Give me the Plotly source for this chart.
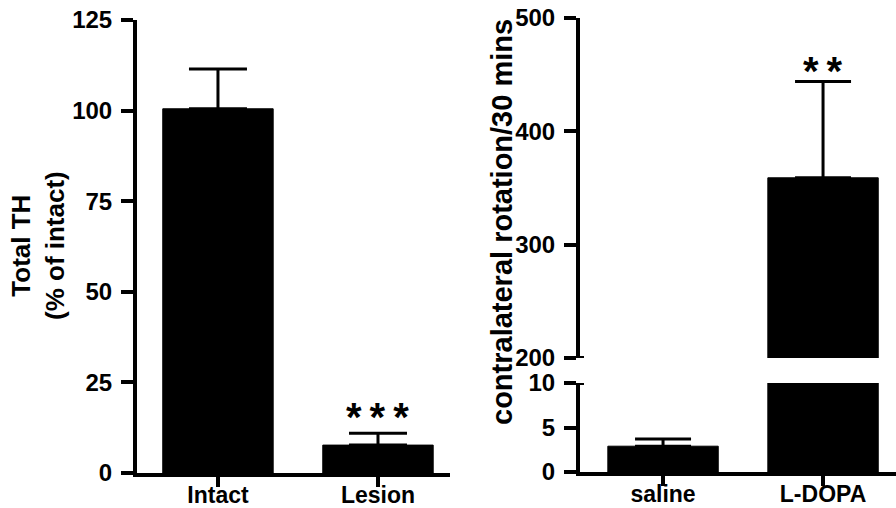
import plotly.graph_objects as go

# ---- data ----
left_categories = ["Intact", "Lesion"]
left_values = [100.5, 7.7]
left_errors = [11.0, 3.3]
left_stars = ["", "*\u2009*\u2009*"]

right_categories = ["saline", "L-DOPA"]
right_values = [2.9, 359.0]
right_errors = [0.8, 85.0]
right_stars = ["", "*\u2009*"]

left_yticks = [0, 25, 50, 75, 100, 125]
right_low_yticks = [0, 5, 10]
right_high_yticks = [200, 300, 400, 500]

W, H = 896, 508
FONT = "Liberation Sans, Arial, Helvetica, sans-serif"
BLACK = "#000000"


def px_x(p):
    return p / W


def px_y(p):
    return (H - p) / H


bar_style = dict(marker=dict(color=BLACK, line=dict(color=BLACK, width=1)), width=0.69, showlegend=False)

fig = go.Figure()

fig.add_trace(go.Bar(
    x=left_categories, y=left_values, xaxis="x", yaxis="y",
    error_y=dict(type="data", array=left_errors, arrayminus=[0] * len(left_errors), symmetric=False,
                 color=BLACK, thickness=3, width=29),
    **bar_style))

fig.add_trace(go.Bar(
    x=right_categories, y=right_values, xaxis="x2", yaxis="y2",
    error_y=dict(type="data", array=right_errors, arrayminus=[0] * len(right_errors), symmetric=False,
                 color=BLACK, thickness=3, width=28),
    **bar_style))

fig.add_trace(go.Bar(
    x=right_categories, y=right_values, xaxis="x3", yaxis="y3",
    error_y=dict(type="data", array=right_errors, arrayminus=[0] * len(right_errors), symmetric=False,
                 color=BLACK, thickness=3, width=28),
    **bar_style))

tickfont = dict(family=FONT, size=24, color=BLACK, weight="bold")
xtickfont = dict(family=FONT, size=23, color=BLACK, weight="bold")
axis_common = dict(showline=True, linecolor=BLACK, linewidth=4, tickwidth=4, tickcolor=BLACK,
                   showgrid=False, zeroline=False, ticks="outside", automargin=False)
xaxis_common = dict(axis_common, ticklen=10, ticklabelstandoff=-12, tickfont=xtickfont)
yaxis_common = dict(axis_common, ticklen=12, ticklabelstandoff=4, tickfont=tickfont)

fig.update_layout(
    width=W, height=H, autosize=False,
    margin=dict(l=0, r=0, t=0, b=0, autoexpand=False),
    paper_bgcolor="white", plot_bgcolor="white",
    xaxis=dict(domain=[px_x(137), px_x(450)], anchor="y", type="category",
               range=[-0.506, 1.45], **xaxis_common),
    yaxis=dict(domain=[px_y(473), px_y(20)], anchor="x", range=[0, 125],
               tickvals=left_yticks, **yaxis_common),
    xaxis2=dict(domain=[px_x(580), 1.0], anchor="y2", type="category",
                range=[-0.519, 1.456], **xaxis_common),
    yaxis2=dict(domain=[px_y(472), px_y(383)], anchor="x2", range=[0, 10],
                tickvals=right_low_yticks, **yaxis_common),
    xaxis3=dict(domain=[px_x(580), 1.0], anchor="y3", type="category",
                range=[-0.519, 1.456], matches="x2", showline=False, showticklabels=False,
                ticks="", showgrid=False, zeroline=False, automargin=False),
    yaxis3=dict(domain=[px_y(358), px_y(18)], anchor="x3", range=[200, 500],
                tickvals=right_high_yticks, **yaxis_common),
)

annotations = []
for cat, v, e, s in zip(left_categories, left_values, left_errors, left_stars):
    if s:
        annotations.append(dict(x=cat, y=v + e, xref="x", yref="y", text="<b>%s</b>" % s,
                                showarrow=False, yanchor="bottom", yshift=-8,
                                font=dict(family=FONT, size=40, color=BLACK)))
for cat, v, e, s in zip(right_categories, right_values, right_errors, right_stars):
    if s:
        annotations.append(dict(x=cat, y=v + e, xref="x3", yref="y3", text="<b>%s</b>" % s,
                                showarrow=False, yanchor="bottom", yshift=-14,
                                font=dict(family=FONT, size=40, color=BLACK)))

annotations.append(dict(x=px_x(38), y=px_y(246), xref="paper", yref="paper",
                        text="<b>Total TH<br>(% of intact)</b>", textangle=-90, showarrow=False,
                        xanchor="center", yanchor="middle",
                        font=dict(family=FONT, size=26, color=BLACK)))
annotations.append(dict(x=px_x(502), y=px_y(222), xref="paper", yref="paper",
                        text="<b>contralateral rotation/30 mins</b>", textangle=-90, showarrow=False,
                        xanchor="center", yanchor="middle",
                        font=dict(family=FONT, size=29, color=BLACK)))
fig.update_layout(annotations=annotations)

# axis-break caps (decoration on the right side of the broken axis ends)
for yref, yv in (("y3", 200), ("y2", 10)):
    fig.add_shape(type="line", xref="x2 domain", xsizemode="pixel", xanchor=0, x0=-12, x1=4,
                  yref=yref, y0=yv, y1=yv, line=dict(color=BLACK, width=4))

fig.write_html("out.html", config={"displayModeBar": False},
               post_script="document.body.style.margin='0px';")
